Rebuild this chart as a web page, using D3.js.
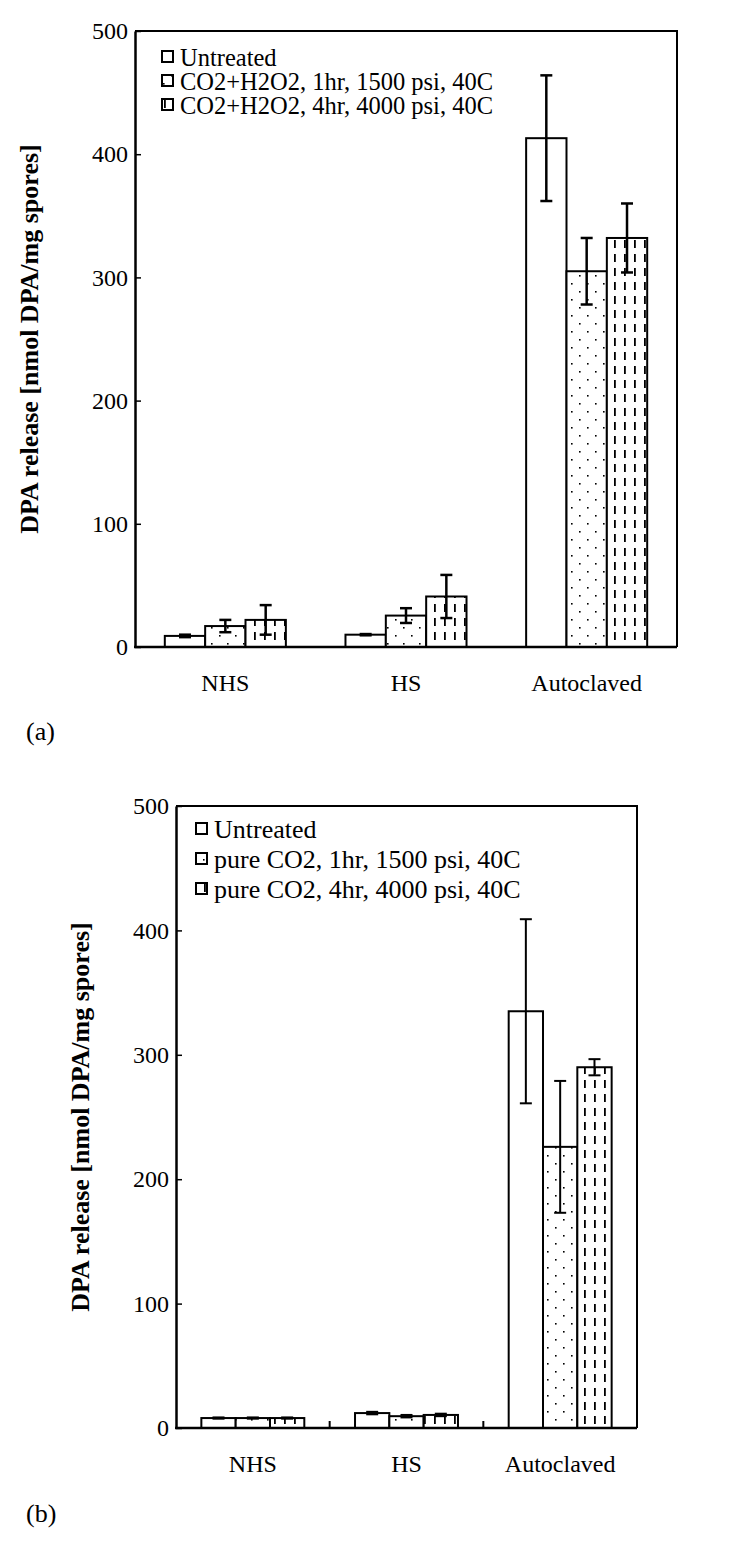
<!DOCTYPE html>
<html>
<head>
<meta charset="utf-8">
<script src="https://cdn.jsdelivr.net/npm/d3@7"></script>
<style>
  html, body { margin: 0; padding: 0; background: #fff; }
  svg { display: block; }
  text { font-family: "Liberation Serif", "Times New Roman", serif; fill: #000; }
</style>
</head>
<body>
<svg id="chart" width="750" height="1549"></svg>
<script>
// ---------- DATA ----------
const categories = ["NHS", "HS", "Autoclaved"];
const yTicks = [0, 100, 200, 300, 400, 500];

// Panel (a)
const seriesNamesA = ["Untreated", "CO2+H2O2, 1hr, 1500 psi, 40C", "CO2+H2O2, 4hr, 4000 psi, 40C"];
const untreatedA = [9, 10, 413];
const untreatedErrA = [1, 0.5, 51];
const h2o2ShortA = [17, 25.5, 305];
const h2o2ShortErrA = [5, 6, 27];
const h2o2LongA = [22, 41, 332];
const h2o2LongErrA = [12, 17.5, 28];

// Panel (b)
const seriesNamesB = ["Untreated", "pure CO2, 1hr, 1500 psi, 40C", "pure CO2, 4hr, 4000 psi, 40C"];
const untreatedB = [8, 12, 335];
const untreatedErrB = [0.5, 1, 74];
const pureShortB = [8, 9.5, 226];
const pureShortErrB = [0.5, 1, 53];
const pureLongB = [8, 10.5, 290];
const pureLongErrB = [0.5, 1, 6.5];

const yTitle = "DPA release [nmol DPA/mg spores]";

// ---------- DRAW ----------
const svg = d3.select("#chart");
const defs = svg.append("defs");

// dotted pattern
const pDots = defs.append("pattern").attr("id", "dots").attr("patternUnits", "userSpaceOnUse")
  .attr("width", 16).attr("height", 16);
pDots.append("rect").attr("width", 16).attr("height", 16).attr("fill", "#fff");
pDots.append("rect").attr("x", 3).attr("y", 3).attr("width", 1.6).attr("height", 1.6).attr("fill", "#000");
pDots.append("rect").attr("x", 11).attr("y", 11).attr("width", 1.6).attr("height", 1.6).attr("fill", "#000");

// dashed vertical lines pattern
const pDash = defs.append("pattern").attr("id", "dash").attr("patternUnits", "userSpaceOnUse")
  .attr("width", 10).attr("height", 14);
pDash.append("rect").attr("width", 10).attr("height", 14).attr("fill", "#fff");
pDash.append("rect").attr("x", 4).attr("y", 2).attr("width", 1.8).attr("height", 8).attr("fill", "#000");

const fills = ["#fff", "url(#dots)", "url(#dash)"];

function drawPanel(cfg) {
  const g = svg.append("g");
  const x = d3.scaleBand().domain(categories).range([cfg.left, cfg.right]).paddingInner(0).paddingOuter(0);
  const bw = x.bandwidth();
  const xs = d3.scaleBand().domain([0, 1, 2]).range([bw * 0.165, bw * 0.835]).padding(0);
  const y = d3.scaleLinear().domain([0, 500]).range([cfg.bottom, cfg.top]);

  const series = cfg.values.map((vals, si) => categories.map((c, ci) => ({
    cat: c, s: si, v: vals[ci], e: cfg.errors[si][ci]
  })));

  // bars
  series.forEach((arr, si) => {
    g.selectAll(null).data(arr).enter().append("rect")
      .attr("x", d => x(d.cat) + xs(si))
      .attr("y", d => y(d.v))
      .attr("width", xs.bandwidth())
      .attr("height", d => y(0) - y(d.v))
      .attr("fill", fills[si])
      .attr("stroke", "#000")
      .attr("stroke-width", cfg.barStroke);
  });

  // error bars
  series.forEach((arr, si) => {
    const eg = g.selectAll(null).data(arr).enter().append("g")
      .attr("stroke", "#000").attr("stroke-width", cfg.errStroke);
    const cx = d => x(d.cat) + xs(si) + xs.bandwidth() / 2;
    eg.append("line").attr("x1", cx).attr("x2", cx)
      .attr("y1", d => y(d.v + d.e)).attr("y2", d => y(d.v - d.e));
    eg.append("line").attr("x1", d => cx(d) - 6).attr("x2", d => cx(d) + 6)
      .attr("y1", d => y(d.v + d.e)).attr("y2", d => y(d.v + d.e));
    eg.append("line").attr("x1", d => cx(d) - 6).attr("x2", d => cx(d) + 6)
      .attr("y1", d => y(d.v - d.e)).attr("y2", d => y(d.v - d.e));
  });

  // frame (top & right)
  g.append("path")
    .attr("d", `M${cfg.left},${cfg.top}H${cfg.right}V${cfg.bottom}`)
    .attr("fill", "none").attr("stroke", "#000").attr("stroke-width", 2);

  // y axis
  const ya = g.append("g").attr("transform", `translate(${cfg.left},0)`)
    .call(d3.axisLeft(y).tickValues(yTicks).tickSize(-6).tickSizeOuter(0).tickPadding(cfg.tickPad));
  ya.select(".domain").attr("stroke-width", 2.5);
  ya.selectAll(".tick line").attr("stroke-width", 1.5);
  ya.selectAll(".tick text").attr("font-family", "Liberation Serif").attr("font-size", cfg.tickFont).attr("fill", "#000");

  // x axis line
  const xa = g.append("g").attr("transform", `translate(0,${cfg.bottom})`)
    .call(d3.axisBottom(x).tickSize(0).tickPadding(cfg.xPad));
  xa.select(".domain").attr("stroke-width", 2.5).attr("d", `M${cfg.left - 1},0H${cfg.right}`);
  xa.selectAll(".tick text").attr("font-family", "Liberation Serif").attr("font-size", cfg.xFont).attr("fill", "#000");

  // separator ticks between categories (panel b)
  if (cfg.sepTicks) {
    g.selectAll(null).data(categories.slice(1)).enter().append("line")
      .attr("x1", d => x(d)).attr("x2", d => x(d))
      .attr("y1", cfg.bottom).attr("y2", cfg.bottom - 7)
      .attr("stroke", "#000").attr("stroke-width", 2);
  }

  // y title
  g.append("text")
    .attr("transform", `translate(${cfg.titleX},${(cfg.top + cfg.bottom) / 2}) rotate(-90)`)
    .attr("text-anchor", "middle").attr("dominant-baseline", "central")
    .attr("font-weight", "bold").attr("font-size", cfg.titleFont)
    .text(yTitle);

  // legend
  const lg = g.append("g");
  cfg.names.forEach((n, i) => {
    const cy = cfg.legY + i * cfg.legStep;
    lg.append("rect").attr("x", cfg.legX).attr("y", cy - 6).attr("width", 11).attr("height", 11)
      .attr("fill", fills[i]).attr("stroke", "#000").attr("stroke-width", 2);
    lg.append("text").attr("x", cfg.legX + 18).attr("y", cy).attr("dy", "0.35em")
      .attr("font-size", cfg.legFont).text(n);
  });

  // panel label
  g.append("text").attr("x", 26).attr("y", cfg.labelY).attr("dy", "0.35em")
    .attr("font-size", 26).text(cfg.label);
}

drawPanel({
  left: 135, right: 677, top: 31, bottom: 647,
  values: [untreatedA, h2o2ShortA, h2o2LongA],
  errors: [untreatedErrA, h2o2ShortErrA, h2o2LongErrA],
  names: seriesNamesA,
  barStroke: 2, errStroke: 2.5,
  tickPad: 7, xPad: 27, tickFont: 24, xFont: 24,
  titleX: 29, titleFont: 26,
  legX: 162, legY: 57, legStep: 24, legFont: 24.5,
  sepTicks: false, label: "(a)", labelY: 731
});

drawPanel({
  left: 176, right: 637, top: 806, bottom: 1428,
  values: [untreatedB, pureShortB, pureLongB],
  errors: [untreatedErrB, pureShortErrB, pureLongErrB],
  names: seriesNamesB,
  barStroke: 2, errStroke: 2,
  tickPad: 7, xPad: 27, tickFont: 24, xFont: 24,
  titleX: 80, titleFont: 26,
  legX: 196, legY: 829, legStep: 30, legFont: 26,
  sepTicks: true, label: "(b)", labelY: 1513
});
</script>
</body>
</html>
